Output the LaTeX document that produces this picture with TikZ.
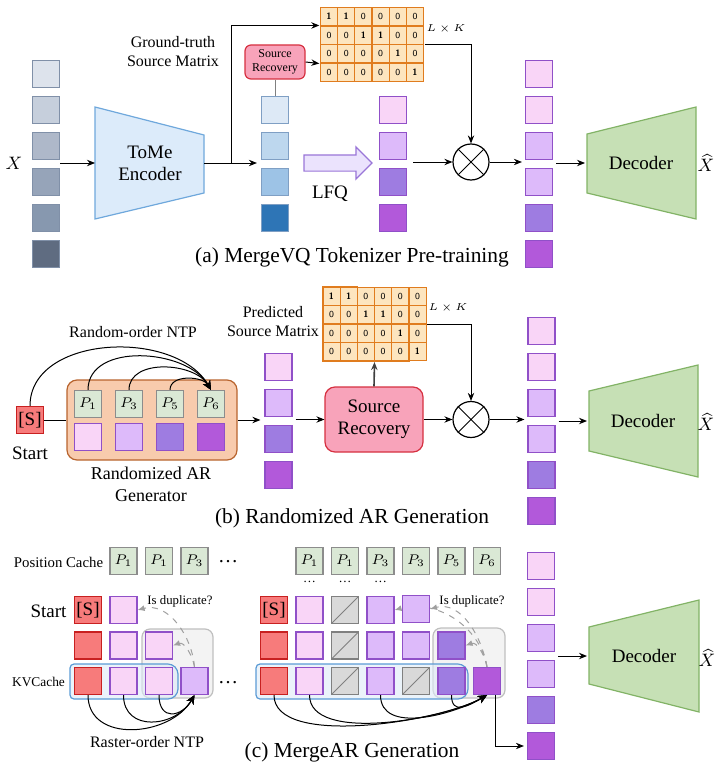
\documentclass[tikz,border=0pt]{standalone}
\usepackage{fontspec}
\setmainfont{Liberation Serif}
\newfontfamily\tnr{Liberation Serif}
\usepackage{amsmath}
\usetikzlibrary{positioning, arrows.meta, shapes.arrows, matrix, calc}

\definecolor{gA}{HTML}{DDE3EC}
\definecolor{gB}{HTML}{C6CFDC}
\definecolor{gC}{HTML}{AEB8C9}
\definecolor{gD}{HTML}{96A4B9}
\definecolor{gE}{HTML}{8798AF}
\definecolor{gF}{HTML}{5F6C81}
\definecolor{gedge}{HTML}{8090A8}
\definecolor{bA}{HTML}{DDE9F6}
\definecolor{bB}{HTML}{BDD7EE}
\definecolor{bC}{HTML}{9DC3E6}
\definecolor{bD}{HTML}{2E75B6}
\definecolor{bedge}{HTML}{7F9FC4}
\definecolor{tokpink}{HTML}{F9D5F7}
\definecolor{toklav}{HTML}{DDBAFA}
\definecolor{tokmed}{HTML}{9E7CE1}
\definecolor{tokdeep}{HTML}{B259DA}
\definecolor{tokedge}{HTML}{9050C8}
\definecolor{tokred}{HTML}{F77B7B}
\definecolor{rededge}{HTML}{C82020}
\definecolor{slashfill}{HTML}{D9D9D9}
\definecolor{slashedge}{HTML}{808080}
\definecolor{posfill}{HTML}{DAE8D5}
\definecolor{posedge}{HTML}{8C8C8C}
\definecolor{matfill}{HTML}{FDE5BF}
\definecolor{matedge}{HTML}{E07C1E}
\definecolor{srfill}{HTML}{F8A3BA}
\definecolor{sredge}{HTML}{D63040}
\definecolor{arfill}{HTML}{F8CBAD}
\definecolor{aredge}{HTML}{B8642E}
\definecolor{encfill}{HTML}{DCEBFA}
\definecolor{encedge}{HTML}{6FA8DC}
\definecolor{decfill}{HTML}{C6E0B5}
\definecolor{decedge}{HTML}{82B366}
\definecolor{lfqfill}{HTML}{EBE3FD}
\definecolor{lfqedge}{HTML}{9A76D8}
\definecolor{kvfill}{HTML}{DEEBF7}
\definecolor{kvedge}{HTML}{5B9BD5}
\definecolor{dupfill}{HTML}{EEEEEE}
\definecolor{dupedge}{HTML}{BFBFBF}
\definecolor{dupgray}{HTML}{A0A0A0}

\begin{document}
\begin{tikzpicture}[x=0.5pt, y=-0.5pt, line width=0.5pt,
    tok/.style={draw=tokedge, line width=0.6pt, minimum width=13.5pt,
                minimum height=13.5pt, inner sep=0pt},
    tp/.style={tok, fill=tokpink},
    tl/.style={tok, fill=toklav},
    tm/.style={tok, fill=tokmed},
    td/.style={tok, fill=tokdeep},
    tr/.style={tok, fill=tokred, draw=rededge, font=\tnr\fontsize{9.5}{10}\selectfont},
    tg/.style={tok, fill=slashfill, draw=slashedge,
               path picture={\draw[slashedge, line width=0.5pt]
               (path picture bounding box.south west) -- (path picture bounding box.north east);}},
    pcell/.style={rectangle, draw=posedge, fill=posfill, line width=0.6pt,
                minimum size=13.5pt, inner sep=0pt, font=\fontsize{7.5}{8}\selectfont},
    mcell/.style={rectangle, draw=matedge, fill=matfill, line width=0.6pt,
                  minimum width=8.6pt, minimum height=9.1pt, inner sep=0pt,
                  font=\sffamily\fontsize{4.6}{5}\selectfont},
    mat/.style={matrix of nodes, nodes={mcell}, column sep=-0.6pt,
                row sep=-0.6pt, inner sep=0pt},
    srbox/.style={rectangle, rounded corners=5pt, draw=sredge, fill=srfill,
                  line width=0.6pt, align=center},
    argen/.style={rectangle, rounded corners=5pt, draw=aredge, fill=arfill,
                  line width=0.6pt, minimum width=85pt, minimum height=40pt},
    otimes/.style={circle, draw, minimum size=18pt, inner sep=0pt, line width=0.6pt},
    lfqarrow/.style={single arrow, draw=lfqedge, fill=lfqfill, line width=0.6pt,
                minimum height=34pt, minimum width=15.5pt, inner sep=3.75pt,
                single arrow head extend=4pt, single arrow head indent=0pt},
    encpoly/.style={draw=encedge, fill=encfill, line width=0.6pt},
    decpoly/.style={draw=decedge, fill=decfill, line width=0.6pt},
    kvbox/.style={draw=kvedge, fill=kvfill, fill opacity=0.6, rounded corners=2pt,
                  line width=0.6pt},
    dupbox/.style={draw=dupedge, fill=dupfill, fill opacity=0.7, rounded corners=4pt,
                   line width=0.6pt},
    arr/.style={-{Stealth[length=4pt, width=3.2pt]}},
    ntp/.style={-{Stealth[length=4.5pt, width=4pt]}},
    duparr/.style={-{Latex[length=3.5pt, width=3pt]}, dashed, dupgray},
    captxt/.style={font=\tnr\fontsize{10.7}{12}\selectfont},
    lbl/.style={font=\tnr\fontsize{9.5}{11}\selectfont, align=center},
    note/.style={font=\tnr\fontsize{8}{9.5}\selectfont, align=center},
    tinytxt/.style={font=\tnr\fontsize{6.4}{7.5}\selectfont},
    lk/.style={font=\fontsize{5.5}{6}\selectfont}
]
\useasboundingbox (0,0) rectangle (717,765);

\foreach \i/\c in {1/gA,2/gB,3/gC,4/gD,5/gE,6/gF}
  \node[tok, draw=gedge, fill=\c] (xa\i) at (46,{38+36*\i}) {};
\node[lbl] (xlab) at (14,163) {$X$};
\draw[encpoly] (95,107) -- (204,135) -- (204,193) -- (95,219) -- cycle;
\coordinate (encW) at (95,163);
\coordinate (encE) at (204,163);
\node[lbl] (enc) at (150,163) {ToMe\\Encoder};
\draw[arr] (xa3.east |- encW) -- (encW);

\foreach \i/\c in {1/bA,2/bB,3/bC,4/bD}
  \node[tok, draw=bedge, fill=\c] (ba\i) at (275,{74+36*\i}) {};
\coordinate (br) at (231,163);
\draw[arr] (encE) -- ([xshift=-2pt]ba2.west |- encE);

\matrix (gtm) [mat] at (372,44.5) {
  \textbf{1} & \textbf{1} & 0 & 0 & 0 & 0 \\
  0 & 0 & \textbf{1} & \textbf{1} & 0 & 0 \\
  0 & 0 & 0 & 0 & \textbf{1} & 0 \\
  0 & 0 & 0 & 0 & 0 & \textbf{1} \\
};
\coordinate (gtin) at ($(gtm.north west)!0.25!(gtm.south west)$);
\coordinate (srin) at ($(gtm.north west)!0.75!(gtm.south west)$);
\draw[arr] (br) |- (gtin);
\node[note] (gtlab) at (173,52) {Ground-truth\\Source Matrix};
\node[srbox, font=\tnr\fontsize{6}{7}\selectfont, minimum width=30pt, minimum height=17pt,
      inner sep=1pt, rounded corners=3pt] (sra) at (275,62) {Source\\Recovery};
\draw[gray] (sra) -- (ba1);
\draw[arr] (sra.east) -- (srin);
\node[lk] (lka) at (446,29) {$L\times K$};

\node[lfqarrow] (lfqa) at (334,163) {};
\node[lbl] (lfqlab) at (330,194) {LFQ};
\foreach \i/\s in {1/tp,2/tl,3/tm,4/td}
  \node[\s] (pa\i) at (393,{74+36*\i}) {};
\node[otimes] (ota) at (471,162) {};
\draw (ota.north east) -- (ota.south west) (ota.north west) -- (ota.south east);
\draw[arr] (gtm.east) -| (ota.north);
\draw[arr] ([xshift=3pt]pa2.east |- ota.west) -- (ota.west);
\foreach \i/\s in {1/tp,2/tp,3/tl,4/tl,5/tm,6/td}
  \node[\s] (ra\i) at (539,{38+36*\i}) {};
\draw[arr] (ota.east) -- ([xshift=-1.5pt]ra3.west |- ota.east);
\draw[decpoly] (587,134) -- (696,107) -- (696,219) -- (587,193) -- cycle;
\coordinate (decaW) at (587,163);
\node[lbl] (deca) at (641,163) {Decoder};
\node[lbl] (xha) at (706,163) {$\widehat{X}$};
\draw[arr] ([xshift=1.5pt]ra3.east |- decaW) -- ([xshift=-1pt]decaW);
\node[captxt] (capa) at (352,257) {(a) MergeVQ Tokenizer Pre-training};

\node[tr] (sb) at (30,420) {[S]};
\node[lbl] (startb) at (30,453) {Start};
\node[argen] (argen) at (152,420) {};
\foreach \i/\p/\s in {1/1/tp,2/3/tl,3/5/tm,4/6/td} {
  \node[pcell] (pb\i) at ({47+41*\i},404) {$P_{\p}$};
  \node[\s] (tb\i) at ({47+41*\i},437) {};
}
\draw (sb.east) -- (argen.west);
\foreach \n in {sb,pb1,pb2,pb3}
  \draw[ntp] (\n.north) to[out=90, in=120] (pb4.north);
\node[note] (ntpb) at (133,332) {Random-order NTP};
\node[lbl, font=\tnr\fontsize{9}{11}\selectfont] (arlab) at (151,484) {Randomized AR\\Generator};
\foreach \i/\s in {1/tp,2/tl,3/tm,4/td}
  \node[\s] (mb\i) at (278.5,{331+36*\i}) {};
\draw[arr] (argen.east) -- ([xshift=-2pt]mb2.west |- argen.east);
\node[srbox, lbl, minimum width=49pt, minimum height=32.5pt] (srb) at (374,419.5) {Source\\Recovery};
\draw[arr] ([xshift=1.5pt]mb2.east |- srb.west) -- (srb.west);
\matrix (pm) [mat] at (374.5,324) {
  \textbf{1} & \textbf{1} & 0 & 0 & 0 & 0 \\
  0 & 0 & \textbf{1} & \textbf{1} & 0 & 0 \\
  0 & 0 & 0 & 0 & \textbf{1} & 0 \\
  0 & 0 & 0 & 0 & 0 & \textbf{1} \\
};
\draw[arr, darkgray, line width=0.8pt] (srb.north) -- (pm.south);
\node[note] (pmlab) at (273,322) {Predicted\\Source Matrix};
\node[lk] (lkb) at (448,308) {$L\times K$};
\node[otimes] (otb) at (471,419.5) {};
\draw (otb.north east) -- (otb.south west) (otb.north west) -- (otb.south east);
\draw[arr] (pm.east) -| (otb.north);
\draw[arr] (srb.east) -- (otb.west);
\foreach \i/\s in {1/tp,2/tp,3/tl,4/tl,5/tm,6/td}
  \node[\s] (rb\i) at (541.5,{295+36*\i}) {};
\draw[arr] (otb.east) -- ([xshift=-1.5pt]rb3.west |- otb.east);
\draw[decpoly] (589,391) -- (698,365) -- (698,477) -- (589,451) -- cycle;
\coordinate (decbW) at (589,421);
\node[lbl] (decb) at (643,421) {Decoder};
\node[lbl] (xhb) at (706,422) {$\widehat{X}$};
\draw[arr] ([xshift=1.5pt]rb3.east |- decbW) -- ([xshift=-1pt]decbW);
\node[captxt] (capb) at (352,518) {(b) Randomized AR Generation};

\node[font=\tnr\fontsize{7.4}{9}\selectfont] (pclab) at (58.5,562) {Position Cache};
\foreach \i/\p in {1/1,2/1,3/3}
  \node[pcell] (pl\i) at ({88+35.5*\i},561) {$P_{\p}$};
\node (pldots) at (228,562) {\dots};
\foreach \i/\p in {1/1,2/1,3/3,4/3,5/5,6/6}
  \node[pcell] (pr\i) at ({274+35.5*\i},561) {$P_{\p}$};
\foreach \i in {1,2,3}
  \node[tinytxt] (prd\i) at ({274+35.5*\i},582) {\dots};

\draw[dupbox] (142,629) rectangle (213,698);
\draw[dupbox] (433,628) rectangle (505,698);
\draw[kvbox] (70,664) -- (172,664) -- (178,670) -- (178,693) -- (172,699) -- (70,699) -- cycle;
\draw[kvbox] (256,664) -- (462,664) -- (468,670) -- (468,693) -- (462,699) -- (256,699) -- cycle;

\node[tr] (l01) at (88,610) {[S]};
\node[lbl] (startc) at (48.5,611) {Start};
\foreach \c/\r/\s in {0/2/tr,0/3/tr,1/1/tp,1/2/tp,1/3/tp,2/2/tp,2/3/tp,3/3/tl}
  \node[\s] (l\c\r) at ({88+35.5*\c},{574.5+35.5*\r}) {};
\node[font=\tnr\fontsize{6.7}{8}\selectfont] (kvlab) at (38.5,682) {KVCache};
\node (ldots) at (228,683) {\dots};
\node[tinytxt] (dupl) at (180,601) {Is duplicate?};
\draw[duparr] (l33.north) to[out=100, in=20] (l22.east);
\draw[duparr] (l33.north) to[out=95, in=15] (l11.east);
\foreach \c/\l in {0/1.17,1/1.36,2/1.88}
  \draw[ntp] (l\c3.south) to[out=-90, in=-120, looseness=\l] (l33.south);
\node[note] (rastlab) at (147,742) {Raster-order NTP};

\node[tr] (r01) at (274,610) {[S]};
\foreach \c/\r/\s in {0/2/tr,0/3/tr,1/1/tp,1/2/tp,1/3/tp,2/1/tg,2/2/tg,2/3/tg,3/1/tl,3/2/tl,3/3/tl,4/2/tl,4/3/tg,5/2/tm,5/3/tm,6/3/td}
  \node[\s] (r\c\r) at ({274+35.5*\c},{574.5+35.5*\r}) {};
\draw[duparr] (r63.north) to[out=100, in=15] (r31.east);
\node[tl] (r41) at (416,609) {};
\draw[duparr] (r63.north) to[out=100, in=15] (r41.east);
\draw[duparr] (r63.north) to[out=100, in=20] (r52.east);
\node[tinytxt] (dupr) at (472,601) {Is duplicate?};
\foreach \c/\l in {0/0.64,1/0.7,3/0.95,5/1.5}
  \draw[ntp] (r\c3.south) to[out=-90, in=-150, looseness=\l] (r63.south);

\foreach \i/\s in {1/tp,2/tp,3/tl,4/tl,5/tm,6/td}
  \node[\s] (rc\i) at (541,{530+36*\i}) {};
\draw[arr] ([xshift=4pt]r63.south) |- ([xshift=-1.5pt]rc6.west);
\draw[decpoly] (589,627) -- (699,600) -- (699,712) -- (589,684) -- cycle;
\coordinate (deccW) at (589,656);
\node[lbl] (decc) at (644,656) {Decoder};
\node[lbl] (xhc) at (707,658) {$\widehat{X}$};
\draw[arr] ([xshift=1.5pt]rc3.east |- deccW) -- ([xshift=-1pt]deccW);
\node[captxt] (capc) at (352,752) {(c) MergeAR Generation};
\end{tikzpicture}
\end{document}
